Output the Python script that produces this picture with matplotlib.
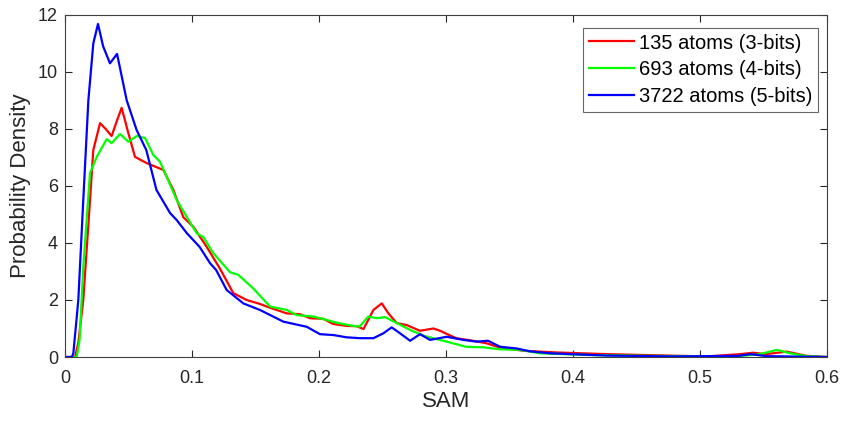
import matplotlib
matplotlib.use("Agg")
import matplotlib.pyplot as plt

# values
sam_3bit = [0.0, 0.0079, 0.0105, 0.0144, 0.0197, 0.0223, 0.0276, 0.032, 0.0367, 0.041,
            0.0446, 0.0499, 0.0551, 0.0643, 0.0774, 0.0853, 0.0932, 0.101, 0.1116, 0.122,
            0.1325, 0.143, 0.1535, 0.1588, 0.1746, 0.185, 0.193, 0.2034, 0.211, 0.2218,
            0.2297, 0.235, 0.2428, 0.2494, 0.2546, 0.2612, 0.269, 0.2795, 0.29, 0.2953,
            0.3005, 0.308, 0.321, 0.332, 0.3425, 0.3606, 0.387, 0.4265, 0.466, 0.505,
            0.5315, 0.5417, 0.552, 0.568, 0.584, 0.6]
pd_3bit = [0.0, 0.0, 0.5, 2.0, 5.5, 7.26, 8.2, 8.0, 7.75, 8.3,
           8.74, 7.85, 7.02, 6.8, 6.56, 5.86, 4.9, 4.57, 3.86, 3.1,
           2.24, 2.0, 1.86, 1.77, 1.53, 1.5, 1.36, 1.34, 1.16, 1.09,
           1.08, 0.98, 1.65, 1.88, 1.53, 1.19, 1.12, 0.92, 1.0, 0.92,
           0.81, 0.66, 0.57, 0.48, 0.33, 0.22, 0.16, 0.1, 0.06, 0.02,
           0.1, 0.15, 0.1, 0.19, 0.04, 0.0]

sam_4bit = [0.0, 0.0092, 0.0115, 0.0144, 0.0197, 0.025, 0.0328, 0.0367, 0.0433, 0.0499,
            0.0564, 0.063, 0.0696, 0.0748, 0.08, 0.088, 0.0958, 0.1037, 0.109, 0.1168,
            0.13, 0.1365, 0.1483, 0.1614, 0.1746, 0.1824, 0.1955, 0.206, 0.214, 0.227,
            0.232, 0.2388, 0.2454, 0.252, 0.2612, 0.2717, 0.2848, 0.3005, 0.3155, 0.329,
            0.3425, 0.358, 0.374, 0.413, 0.479, 0.53, 0.547, 0.5604, 0.571, 0.584, 0.6]
pd_4bit = [0.0, 0.0, 0.6, 3.16, 6.45, 7.02, 7.64, 7.5, 7.82, 7.55,
           7.75, 7.68, 7.08, 6.85, 6.33, 5.5, 4.92, 4.34, 4.2, 3.64,
           2.97, 2.88, 2.4, 1.77, 1.65, 1.47, 1.42, 1.3, 1.2, 1.09,
           1.07, 1.42, 1.36, 1.4, 1.19, 0.95, 0.71, 0.54, 0.36, 0.34,
           0.27, 0.25, 0.13, 0.07, 0.03, 0.03, 0.1, 0.25, 0.13, 0.03, 0.0]

sam_5bit = [0.0, 0.0055, 0.0066, 0.0105, 0.0144, 0.0184, 0.0223, 0.026, 0.030, 0.0354,
            0.041, 0.0486, 0.0564, 0.064, 0.072, 0.0827, 0.088, 0.0958, 0.106, 0.1142,
            0.119, 0.1273, 0.1404, 0.1535, 0.1719, 0.1903, 0.2008, 0.2113, 0.2218, 0.2323,
            0.2428, 0.2506, 0.2572, 0.2638, 0.2717, 0.2795, 0.2874, 0.3005, 0.3136, 0.324,
            0.333, 0.3425, 0.3556, 0.366, 0.382, 0.4265, 0.479, 0.53, 0.54, 0.552, 0.6]
pd_5bit = [0.0, 0.0, 0.14, 2.0, 5.5, 9.0, 11.0, 11.68, 10.9, 10.3,
           10.63, 9.0, 7.96, 7.26, 5.86, 5.05, 4.8, 4.35, 3.86, 3.29,
           3.05, 2.35, 1.88, 1.65, 1.24, 1.06, 0.8, 0.77, 0.69, 0.66,
           0.66, 0.83, 1.04, 0.83, 0.57, 0.8, 0.6, 0.71, 0.6, 0.54,
           0.57, 0.36, 0.3, 0.2, 0.13, 0.05, 0.02, 0.04, 0.1, 0.03, 0.0]

labels = ["135 atoms (3-bits)", "693 atoms (4-bits)", "3722 atoms (5-bits)"]
colors = ["#ff0000", "#00ff00", "#0000ff"]

plt.rcParams['font.family'] = ['Liberation Sans', 'DejaVu Sans']

fig = plt.figure(figsize=(8.44, 4.24), dpi=100)
ax = fig.add_axes([0.077, 0.158, 0.903, 0.807])

for xs, ys, lab, c in zip([sam_3bit, sam_4bit, sam_5bit], [pd_3bit, pd_4bit, pd_5bit],
                          labels, colors):
    ax.plot(xs, ys, color=c, lw=1.6, label=lab)

ax.set_xlim(0, 0.6)
ax.set_ylim(0, 12)
ax.set_xticks([0, 0.1, 0.2, 0.3, 0.4, 0.5, 0.6])
ax.set_xticklabels(["0", "0.1", "0.2", "0.3", "0.4", "0.5", "0.6"])
ax.set_yticks(range(0, 13, 2))
ax.tick_params(direction='in', top=True, right=True, labelsize=13, colors='#262626',
               length=5, width=0.8)
ax.tick_params(axis='x', pad=9)
ax.tick_params(axis='y', pad=5)
for s in ax.spines.values():
    s.set_color('#404040')
    s.set_linewidth(0.8)
ax.set_xlabel("SAM", fontsize=16, color='#262626', labelpad=3)
ax.set_ylabel("Probability Density", fontsize=16, color='#262626', labelpad=5)

leg = ax.legend(loc='upper right', fontsize=14.5, frameon=True, fancybox=False,
                bbox_to_anchor=(0.9885, 0.963), borderaxespad=0, borderpad=0.3,
                handlelength=2.25, handletextpad=0.25, labelspacing=0.38)
leg.get_frame().set_edgecolor('#404040')
leg.get_frame().set_linewidth(0.8)

fig.savefig("out.png", dpi=100)
